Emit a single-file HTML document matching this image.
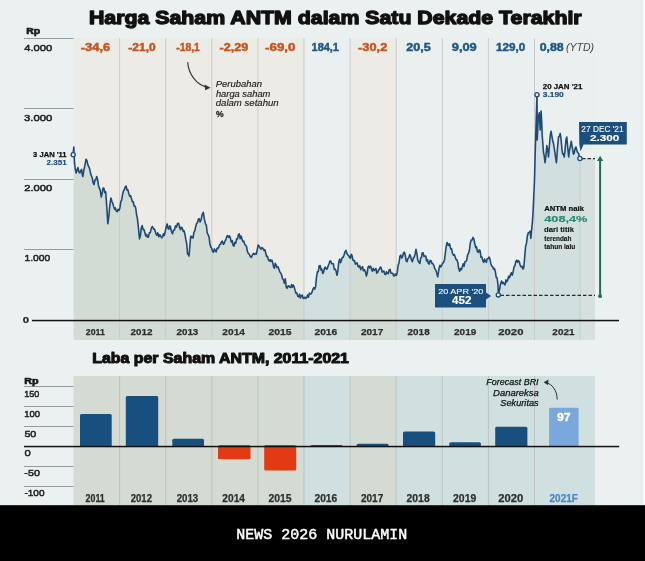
<!DOCTYPE html><html><head><meta charset="utf-8"><style>html,body{margin:0;padding:0;width:645px;height:561px;overflow:hidden;background:#ebf1f0}svg{display:block;will-change:transform}text{font-family:"Liberation Sans",sans-serif}</style></head><body>
<svg width="645" height="561" viewBox="0 0 645 561">
<rect x="0" y="0" width="645" height="561" fill="#ebf1f0"/>
<rect x="640.7" y="0" width="2.2" height="505" fill="#e5eaeb"/><rect x="642.9" y="0" width="2.1" height="505" fill="#f6fafb"/>
<text x="88.96" y="23.61" font-size="18.49" font-weight="bold" font-style="normal" fill="#111" stroke="#111" stroke-width="1.3" stroke-linejoin="round" textLength="492.68" lengthAdjust="spacingAndGlyphs">Harga Saham ANTM dalam Satu Dekade Terakhir</text>
<rect x="73.5" y="38.3" width="46.1" height="301.7" fill="#ecebe6"/>
<rect x="119.6" y="38.3" width="46.1" height="301.7" fill="#ecebe6"/>
<rect x="165.7" y="38.3" width="46.1" height="301.7" fill="#ecebe6"/>
<rect x="211.8" y="38.3" width="46.1" height="301.7" fill="#ecebe6"/>
<rect x="257.9" y="38.3" width="46.1" height="301.7" fill="#ecebe6"/>
<rect x="304.0" y="38.3" width="46.1" height="301.7" fill="#eaf0f0"/>
<rect x="350.1" y="38.3" width="46.1" height="301.7" fill="#ecebe6"/>
<rect x="396.2" y="38.3" width="46.1" height="301.7" fill="#eaf0f0"/>
<rect x="442.3" y="38.3" width="46.1" height="301.7" fill="#eaf0f0"/>
<rect x="488.4" y="38.3" width="46.1" height="301.7" fill="#eaf0f0"/>
<rect x="534.5" y="38.3" width="60.5" height="301.7" fill="#eaf0f0"/>
<clipPath id="ar"><path d="M73.3,152.0 L73.8,147.0 L74.5,163.2 L75.3,169.0 L76.2,173.0 L77.1,169.7 L78.0,167.6 L78.9,171.8 L79.8,173.0 L80.7,170.8 L81.6,169.4 L82.2,174.3 L82.8,176.5 L83.9,169.8 L84.9,165.4 L86.0,159.3 L86.9,160.5 L87.8,164.6 L88.7,166.7 L89.6,168.6 L90.5,173.1 L91.4,175.7 L92.3,178.2 L93.1,182.7 L94.0,184.6 L94.9,180.0 L95.8,179.7 L96.7,176.5 L97.6,179.6 L98.5,185.7 L99.4,188.1 L100.3,190.4 L101.2,197.0 L102.1,193.9 L103.0,188.0 L103.9,188.2 L104.8,192.6 L105.7,191.7 L106.8,207.4 L107.8,223.8 L108.7,217.7 L109.6,207.7 L110.3,202.0 L111.0,198.0 L111.9,201.5 L112.8,203.3 L113.7,206.8 L114.6,209.2 L115.4,207.9 L116.3,211.3 L117.2,211.6 L118.1,209.3 L119.0,210.4 L119.9,208.0 L120.8,201.6 L121.7,200.0 L122.6,194.3 L123.5,190.8 L124.4,189.6 L125.2,186.9 L126.1,186.0 L127.0,190.1 L127.9,189.9 L128.8,193.5 L129.7,196.2 L130.6,195.6 L131.5,198.8 L132.4,201.8 L133.2,201.5 L134.1,206.0 L135.0,206.0 L135.8,208.5 L136.6,215.0 L137.4,218.4 L138.4,227.3 L139.5,238.9 L140.4,235.8 L141.3,228.1 L142.2,225.6 L143.1,229.7 L144.0,229.5 L144.9,232.7 L145.8,236.0 L146.7,234.4 L147.5,237.1 L148.4,237.1 L149.4,232.7 L150.4,232.4 L151.4,227.9 L152.4,226.5 L153.5,228.9 L154.5,229.1 L155.6,232.7 L156.7,235.2 L157.7,232.8 L158.8,236.8 L159.8,234.7 L160.9,236.3 L161.8,237.9 L162.7,236.3 L163.5,233.7 L164.2,235.4 L165.0,232.8 L166.1,227.2 L167.1,223.9 L168.0,228.4 L168.9,229.2 L169.6,225.8 L170.3,226.5 L171.4,231.3 L172.5,233.7 L173.5,230.1 L174.5,230.0 L175.5,225.9 L176.5,227.1 L177.5,223.5 L178.6,223.3 L179.6,227.4 L180.5,229.6 L181.4,227.2 L182.3,228.3 L183.2,231.4 L184.1,230.9 L185.0,234.6 L185.8,239.4 L186.7,243.5 L187.6,254.2 L188.3,253.9 L189.0,256.0 L189.8,246.8 L190.7,236.3 L191.5,236.3 L192.2,237.8 L193.0,238.0 L193.9,232.4 L194.8,230.9 L195.7,226.5 L196.6,223.4 L197.4,222.8 L198.3,219.4 L199.2,218.7 L200.1,222.0 L201.2,219.2 L202.2,214.4 L203.3,212.3 L204.4,219.4 L205.5,223.9 L206.4,225.5 L207.2,232.9 L208.1,234.6 L209.0,236.8 L209.9,243.7 L210.8,247.0 L211.7,248.2 L212.6,251.5 L213.5,252.2 L214.4,248.9 L215.3,250.6 L216.2,251.8 L217.1,248.2 L217.9,248.5 L218.8,247.0 L219.7,244.5 L220.6,244.2 L221.5,241.7 L222.4,241.1 L223.3,244.3 L224.2,243.5 L225.1,240.7 L225.9,239.8 L226.8,236.4 L227.7,235.5 L228.6,237.4 L229.5,235.9 L230.4,238.1 L231.3,242.2 L232.2,240.5 L233.1,245.4 L234.0,246.1 L234.9,242.3 L235.8,243.1 L236.6,238.8 L237.5,238.9 L238.4,234.6 L239.3,233.9 L240.2,238.8 L241.1,236.1 L242.0,239.0 L242.9,241.6 L243.8,241.1 L244.7,244.2 L245.6,245.3 L246.5,246.5 L247.3,251.1 L248.2,253.3 L249.3,254.2 L250.3,256.7 L251.4,257.4 L252.5,254.7 L253.6,253.3 L254.5,254.5 L255.4,253.5 L256.3,254.2 L257.2,249.9 L258.2,245.0 L259.2,246.2 L260.3,248.5 L261.2,249.0 L262.1,247.5 L263.0,248.5 L263.9,250.3 L264.8,249.5 L265.7,253.0 L266.6,256.5 L267.5,256.4 L268.4,259.8 L269.3,261.0 L270.2,259.7 L271.0,261.4 L271.9,260.1 L272.8,263.1 L273.7,267.2 L274.5,268.2 L275.2,263.3 L276.0,264.6 L277.0,267.6 L278.1,266.9 L279.1,269.9 L280.0,272.2 L280.8,273.0 L281.7,275.3 L282.6,278.9 L283.5,279.8 L284.4,283.3 L285.3,278.8 L286.2,286.8 L287.1,288.3 L288.0,286.0 L288.9,285.9 L289.8,287.3 L290.7,287.4 L291.6,284.5 L292.4,287.1 L293.3,285.0 L294.2,287.1 L295.1,290.4 L296.0,293.3 L296.9,293.1 L297.8,296.4 L298.7,296.6 L299.6,294.2 L300.4,298.0 L301.3,295.8 L302.2,295.0 L303.1,298.3 L304.0,298.4 L304.9,297.1 L305.8,298.4 L306.7,297.5 L307.6,294.9 L308.5,297.1 L309.4,293.1 L310.3,294.0 L311.1,294.0 L312.0,292.2 L312.9,289.2 L313.8,287.7 L314.7,289.1 L315.6,286.8 L316.5,277.1 L317.4,271.7 L318.3,271.6 L319.2,265.7 L320.1,265.5 L321.0,270.0 L321.8,269.1 L322.7,273.5 L323.6,272.1 L324.5,268.0 L325.4,267.2 L326.3,269.1 L327.2,269.0 L328.1,266.0 L329.0,264.0 L329.9,261.0 L330.8,261.1 L331.6,263.6 L332.5,263.7 L333.4,263.9 L334.3,269.4 L335.2,269.0 L336.1,271.0 L337.0,275.3 L337.9,270.7 L338.8,261.9 L339.7,259.1 L340.6,262.8 L341.5,260.1 L342.4,257.3 L343.2,257.3 L344.1,254.8 L345.0,251.8 L345.9,250.3 L346.8,253.2 L347.7,254.8 L348.6,255.4 L349.5,257.4 L350.4,258.3 L351.2,254.3 L352.1,255.7 L352.9,260.1 L353.6,260.8 L354.5,260.5 L355.3,264.1 L356.2,263.5 L357.1,262.8 L358.0,266.3 L358.9,267.0 L359.8,265.7 L360.7,269.6 L361.6,267.9 L362.5,266.7 L363.4,270.8 L364.3,269.7 L365.4,271.6 L366.4,276.0 L367.2,273.3 L367.9,267.6 L368.7,266.1 L369.6,267.9 L370.5,266.1 L371.4,268.8 L372.3,271.2 L373.2,268.2 L374.1,270.5 L375.0,269.7 L375.9,268.5 L376.7,273.2 L377.6,272.4 L378.5,270.0 L379.4,269.3 L380.3,267.0 L381.2,267.9 L382.1,272.0 L383.0,271.5 L383.9,271.0 L384.8,274.2 L385.7,274.5 L386.5,271.7 L387.4,273.3 L388.3,273.7 L389.2,269.7 L390.1,269.4 L391.0,273.1 L391.9,273.3 L392.8,273.3 L393.7,276.0 L394.6,275.6 L395.4,273.9 L396.3,275.4 L397.2,272.4 L398.1,265.5 L399.0,263.0 L399.9,256.3 L400.8,255.1 L401.7,258.1 L402.6,256.6 L403.5,252.8 L404.4,252.2 L405.3,255.5 L406.1,260.5 L407.0,261.7 L407.9,258.6 L408.8,257.7 L409.7,254.6 L410.6,256.1 L411.5,260.1 L412.4,261.7 L413.3,258.0 L414.2,257.2 L415.1,254.0 L416.0,249.2 L416.9,253.5 L417.7,259.9 L418.8,262.2 L419.9,263.5 L420.7,257.9 L421.4,257.3 L422.2,252.8 L423.1,252.8 L424.0,256.5 L424.9,256.3 L425.8,256.1 L426.6,261.0 L427.5,259.7 L428.4,263.5 L429.3,263.9 L430.2,260.4 L431.1,260.8 L432.0,263.6 L432.9,263.5 L433.8,265.3 L434.7,268.6 L435.6,269.7 L436.6,272.6 L437.7,276.8 L438.4,272.7 L439.1,267.9 L440.0,265.2 L440.9,266.8 L441.8,265.3 L442.7,262.8 L443.6,262.6 L444.5,259.7 L445.3,253.5 L446.2,246.6 L447.1,242.5 L447.9,244.9 L448.6,245.5 L449.2,243.8 L449.8,244.6 L450.7,248.9 L451.6,248.7 L452.5,253.5 L453.4,255.2 L454.3,254.5 L455.2,257.0 L456.1,259.6 L456.9,259.8 L457.8,262.4 L458.7,268.6 L459.6,271.3 L460.5,268.5 L461.4,269.7 L462.3,266.8 L463.2,263.7 L464.1,266.2 L464.9,261.7 L465.8,261.5 L466.7,260.3 L467.6,254.9 L468.5,253.5 L469.4,250.3 L470.3,243.0 L471.2,240.1 L472.1,239.9 L473.0,237.4 L473.9,239.2 L474.8,243.7 L475.7,247.6 L476.5,246.9 L477.4,251.7 L478.3,252.4 L479.2,249.9 L480.1,250.6 L481.0,257.3 L481.9,257.1 L482.8,260.6 L483.7,262.3 L484.6,259.1 L485.5,261.5 L486.4,262.3 L487.2,258.7 L488.1,258.7 L489.0,257.0 L489.9,258.9 L490.8,263.4 L491.7,266.0 L492.6,266.6 L493.5,269.1 L494.4,268.4 L495.3,271.3 L496.2,277.3 L497.0,277.6 L497.9,283.8 L498.4,294.5 L499.4,290.6 L500.5,283.9 L501.5,281.1 L502.4,283.6 L503.3,282.3 L504.2,283.8 L505.1,284.9 L505.9,279.9 L506.8,281.8 L507.7,280.2 L508.6,276.3 L509.5,277.7 L510.4,274.9 L511.3,272.8 L512.2,275.3 L513.1,272.2 L514.0,266.8 L514.9,265.7 L515.8,261.5 L516.7,260.1 L517.5,262.2 L518.4,260.6 L519.3,261.7 L520.2,265.4 L521.1,266.8 L522.0,266.2 L522.9,269.1 L523.8,267.7 L524.7,256.7 L525.6,246.3 L526.5,243.2 L527.3,236.3 L528.2,233.0 L529.1,232.4 L530.0,231.2 L530.9,238.3 L531.6,229.8 L532.3,223.2 L533.0,213.1 L533.6,200.0 L534.5,180.0 L535.3,150.0 L536.2,120.0 L537.0,94.6 L537.2,140.0 L538.2,118.0 L539.3,112.8 L540.2,130.0 L541.1,111.1 L541.7,121.8 L542.2,135.0 L542.9,144.3 L543.5,152.7 L544.2,155.5 L545.0,162.6 L545.9,155.9 L546.8,145.6 L547.6,149.2 L548.5,157.0 L549.2,148.0 L550.0,138.0 L550.5,133.8 L551.1,131.3 L552.0,136.7 L552.8,141.3 L553.6,143.8 L554.5,149.8 L555.5,157.0 L556.4,162.6 L557.0,154.8 L557.5,148.0 L558.5,137.0 L559.4,136.3 L560.2,133.4 L561.1,139.6 L562.0,149.8 L562.7,154.1 L563.5,153.8 L564.2,157.0 L564.9,151.6 L565.5,145.0 L566.1,139.0 L566.8,137.0 L567.8,148.4 L568.7,157.0 L569.4,150.9 L570.0,148.0 L570.6,145.1 L571.3,141.3 L572.3,147.3 L573.4,154.1 L574.2,153.3 L575.1,148.3 L575.9,147.0 L576.8,150.3 L577.7,152.7 L578.7,153.5 L579.6,158.4 L595,158.7 L595,340 L73.5,340 Z"/></clipPath>
<g clip-path="url(#ar)">
<rect x="73.5" y="38.3" width="46.1" height="301.7" fill="#d3dcd4"/>
<rect x="119.6" y="38.3" width="46.1" height="301.7" fill="#d3dcd4"/>
<rect x="165.7" y="38.3" width="46.1" height="301.7" fill="#d3dcd4"/>
<rect x="211.8" y="38.3" width="46.1" height="301.7" fill="#d3dcd4"/>
<rect x="257.9" y="38.3" width="46.1" height="301.7" fill="#d3dcd4"/>
<rect x="304.0" y="38.3" width="46.1" height="301.7" fill="#d1e0de"/>
<rect x="350.1" y="38.3" width="46.1" height="301.7" fill="#d3dcd4"/>
<rect x="396.2" y="38.3" width="46.1" height="301.7" fill="#d1e0de"/>
<rect x="442.3" y="38.3" width="46.1" height="301.7" fill="#d1e0de"/>
<rect x="488.4" y="38.3" width="46.1" height="301.7" fill="#d1e0de"/>
<rect x="534.5" y="38.3" width="60.5" height="301.7" fill="#d1e0de"/>
</g>
<rect x="119.1" y="38.3" width="1" height="301.7" fill="#c8ccca"/>
<rect x="165.2" y="38.3" width="1" height="301.7" fill="#c8ccca"/>
<rect x="211.3" y="38.3" width="1" height="301.7" fill="#c8ccca"/>
<rect x="257.4" y="38.3" width="1" height="301.7" fill="#c8ccca"/>
<rect x="303.5" y="38.3" width="1" height="301.7" fill="#c8ccca"/>
<rect x="349.6" y="38.3" width="1" height="301.7" fill="#c8ccca"/>
<rect x="395.7" y="38.3" width="1" height="301.7" fill="#c8ccca"/>
<rect x="441.8" y="38.3" width="1" height="301.7" fill="#c8ccca"/>
<rect x="487.9" y="38.3" width="1" height="301.7" fill="#c8ccca"/>
<rect x="534.0" y="38.3" width="1" height="301.7" fill="#c8ccca"/>
<rect x="580.6" y="158.7" width="14.4" height="181.3" fill="#d5e0df"/><rect x="579.6" y="158.7" width="1" height="181.3" fill="#c3cfcd"/>
<rect x="24" y="38" width="49.5" height="1" fill="#939c9b"/>
<rect x="24" y="108" width="49.5" height="1" fill="#939c9b"/>
<rect x="24" y="179" width="49.5" height="1" fill="#939c9b"/>
<rect x="24" y="249" width="49.5" height="1" fill="#939c9b"/>
<rect x="32" y="319.8" width="587" height="1.5" fill="#111"/>
<text x="26.22" y="34.11" font-size="8.42" font-weight="bold" font-style="normal" fill="#1a1a1a" stroke="#1a1a1a" stroke-width="0.6" stroke-linejoin="round" textLength="13.93" lengthAdjust="spacingAndGlyphs">Rp</text>
<text x="24.23" y="50.72" font-size="9.67" font-weight="normal" font-style="normal" fill="#1e1e1e" stroke="#1e1e1e" stroke-width="0.5" stroke-linejoin="round" textLength="27.94" lengthAdjust="spacingAndGlyphs">4.000</text>
<text x="24.00" y="120.92" font-size="9.67" font-weight="normal" font-style="normal" fill="#1e1e1e" stroke="#1e1e1e" stroke-width="0.5" stroke-linejoin="round" textLength="28.17" lengthAdjust="spacingAndGlyphs">3.000</text>
<text x="24.19" y="190.73" font-size="8.95" font-weight="normal" font-style="normal" fill="#1e1e1e" stroke="#1e1e1e" stroke-width="0.5" stroke-linejoin="round" textLength="27.98" lengthAdjust="spacingAndGlyphs">2.000</text>
<text x="24.48" y="260.93" font-size="9.67" font-weight="normal" font-style="normal" fill="#1e1e1e" stroke="#1e1e1e" stroke-width="0.5" stroke-linejoin="round" textLength="25.65" lengthAdjust="spacingAndGlyphs">1.000</text>
<text x="22.85" y="322.97" font-size="9.96" font-weight="bold" font-style="normal" fill="#222" stroke="#222" stroke-width="0.2" stroke-linejoin="round" textLength="6.32" lengthAdjust="spacingAndGlyphs">0</text>
<text x="80.81" y="50.63" font-size="10.45" font-weight="bold" font-style="normal" fill="#c8541f" stroke="#c8541f" stroke-width="0.45" stroke-linejoin="round" textLength="29.41" lengthAdjust="spacingAndGlyphs">-34,6</text>
<text x="128.35" y="50.63" font-size="10.45" font-weight="bold" font-style="normal" fill="#c8541f" stroke="#c8541f" stroke-width="0.45" stroke-linejoin="round" textLength="27.30" lengthAdjust="spacingAndGlyphs">-21,0</text>
<text x="176.31" y="50.63" font-size="10.45" font-weight="bold" font-style="normal" fill="#c8541f" stroke="#c8541f" stroke-width="0.45" stroke-linejoin="round" textLength="23.51" lengthAdjust="spacingAndGlyphs">-18,1</text>
<text x="219.62" y="50.63" font-size="10.45" font-weight="bold" font-style="normal" fill="#c8541f" stroke="#c8541f" stroke-width="0.45" stroke-linejoin="round" textLength="28.79" lengthAdjust="spacingAndGlyphs">-2,29</text>
<text x="265.09" y="50.63" font-size="10.45" font-weight="bold" font-style="normal" fill="#c8541f" stroke="#c8541f" stroke-width="0.45" stroke-linejoin="round" textLength="30.41" lengthAdjust="spacingAndGlyphs">-69,0</text>
<text x="311.57" y="50.63" font-size="10.45" font-weight="bold" font-style="normal" fill="#1f5685" stroke="#1f5685" stroke-width="0.45" stroke-linejoin="round" textLength="27.30" lengthAdjust="spacingAndGlyphs">184,1</text>
<text x="358.11" y="50.63" font-size="10.45" font-weight="bold" font-style="normal" fill="#c8541f" stroke="#c8541f" stroke-width="0.45" stroke-linejoin="round" textLength="29.17" lengthAdjust="spacingAndGlyphs">-30,2</text>
<text x="406.39" y="50.63" font-size="10.45" font-weight="bold" font-style="normal" fill="#1f5685" stroke="#1f5685" stroke-width="0.45" stroke-linejoin="round" textLength="24.42" lengthAdjust="spacingAndGlyphs">20,5</text>
<text x="451.78" y="50.63" font-size="10.45" font-weight="bold" font-style="normal" fill="#1f5685" stroke="#1f5685" stroke-width="0.45" stroke-linejoin="round" textLength="24.96" lengthAdjust="spacingAndGlyphs">9,09</text>
<text x="496.13" y="50.63" font-size="10.45" font-weight="bold" font-style="normal" fill="#1f5685" stroke="#1f5685" stroke-width="0.45" stroke-linejoin="round" textLength="29.14" lengthAdjust="spacingAndGlyphs">129,0</text>
<text x="539.73" y="50.63" font-size="10.45" font-weight="bold" font-style="normal" fill="#1f5685" stroke="#1f5685" stroke-width="0.45" stroke-linejoin="round" textLength="23.93" lengthAdjust="spacingAndGlyphs">0,88</text>
<text x="566.03" y="50.70" font-size="10.29" font-weight="normal" font-style="italic" fill="#444" textLength="28.06" lengthAdjust="spacingAndGlyphs">(YTD)</text>
<path d="M187.7,62.1 C188.5,74 196,84 206,87" fill="none" stroke="#333" stroke-width="1.1"/>
<path d="M210.6,87.8 L204.5,84.4 L205.2,90.2 Z" fill="#333"/>
<text x="215.79" y="86.58" font-size="9.28" font-weight="normal" font-style="italic" fill="#1a1a1a" stroke="#1a1a1a" stroke-width="0.15" stroke-linejoin="round" textLength="46.09" lengthAdjust="spacingAndGlyphs">Perubahan</text>
<text x="215.94" y="96.78" font-size="9.28" font-weight="normal" font-style="italic" fill="#1a1a1a" stroke="#1a1a1a" stroke-width="0.15" stroke-linejoin="round" textLength="54.43" lengthAdjust="spacingAndGlyphs">harga saham</text>
<text x="215.74" y="106.18" font-size="9.28" font-weight="normal" font-style="italic" fill="#1a1a1a" stroke="#1a1a1a" stroke-width="0.15" stroke-linejoin="round" textLength="62.92" lengthAdjust="spacingAndGlyphs">dalam setahun</text>
<text x="215.94" y="117.25" font-size="9.72" font-weight="bold" font-style="normal" fill="#222" stroke="#222" stroke-width="0.3" stroke-linejoin="round" textLength="7.62" lengthAdjust="spacingAndGlyphs">%</text>
<path d="M73.3,152.0 L73.8,147.0 L74.5,163.2 L75.3,169.0 L76.2,173.0 L77.1,169.7 L78.0,167.6 L78.9,171.8 L79.8,173.0 L80.7,170.8 L81.6,169.4 L82.2,174.3 L82.8,176.5 L83.9,169.8 L84.9,165.4 L86.0,159.3 L86.9,160.5 L87.8,164.6 L88.7,166.7 L89.6,168.6 L90.5,173.1 L91.4,175.7 L92.3,178.2 L93.1,182.7 L94.0,184.6 L94.9,180.0 L95.8,179.7 L96.7,176.5 L97.6,179.6 L98.5,185.7 L99.4,188.1 L100.3,190.4 L101.2,197.0 L102.1,193.9 L103.0,188.0 L103.9,188.2 L104.8,192.6 L105.7,191.7 L106.8,207.4 L107.8,223.8 L108.7,217.7 L109.6,207.7 L110.3,202.0 L111.0,198.0 L111.9,201.5 L112.8,203.3 L113.7,206.8 L114.6,209.2 L115.4,207.9 L116.3,211.3 L117.2,211.6 L118.1,209.3 L119.0,210.4 L119.9,208.0 L120.8,201.6 L121.7,200.0 L122.6,194.3 L123.5,190.8 L124.4,189.6 L125.2,186.9 L126.1,186.0 L127.0,190.1 L127.9,189.9 L128.8,193.5 L129.7,196.2 L130.6,195.6 L131.5,198.8 L132.4,201.8 L133.2,201.5 L134.1,206.0 L135.0,206.0 L135.8,208.5 L136.6,215.0 L137.4,218.4 L138.4,227.3 L139.5,238.9 L140.4,235.8 L141.3,228.1 L142.2,225.6 L143.1,229.7 L144.0,229.5 L144.9,232.7 L145.8,236.0 L146.7,234.4 L147.5,237.1 L148.4,237.1 L149.4,232.7 L150.4,232.4 L151.4,227.9 L152.4,226.5 L153.5,228.9 L154.5,229.1 L155.6,232.7 L156.7,235.2 L157.7,232.8 L158.8,236.8 L159.8,234.7 L160.9,236.3 L161.8,237.9 L162.7,236.3 L163.5,233.7 L164.2,235.4 L165.0,232.8 L166.1,227.2 L167.1,223.9 L168.0,228.4 L168.9,229.2 L169.6,225.8 L170.3,226.5 L171.4,231.3 L172.5,233.7 L173.5,230.1 L174.5,230.0 L175.5,225.9 L176.5,227.1 L177.5,223.5 L178.6,223.3 L179.6,227.4 L180.5,229.6 L181.4,227.2 L182.3,228.3 L183.2,231.4 L184.1,230.9 L185.0,234.6 L185.8,239.4 L186.7,243.5 L187.6,254.2 L188.3,253.9 L189.0,256.0 L189.8,246.8 L190.7,236.3 L191.5,236.3 L192.2,237.8 L193.0,238.0 L193.9,232.4 L194.8,230.9 L195.7,226.5 L196.6,223.4 L197.4,222.8 L198.3,219.4 L199.2,218.7 L200.1,222.0 L201.2,219.2 L202.2,214.4 L203.3,212.3 L204.4,219.4 L205.5,223.9 L206.4,225.5 L207.2,232.9 L208.1,234.6 L209.0,236.8 L209.9,243.7 L210.8,247.0 L211.7,248.2 L212.6,251.5 L213.5,252.2 L214.4,248.9 L215.3,250.6 L216.2,251.8 L217.1,248.2 L217.9,248.5 L218.8,247.0 L219.7,244.5 L220.6,244.2 L221.5,241.7 L222.4,241.1 L223.3,244.3 L224.2,243.5 L225.1,240.7 L225.9,239.8 L226.8,236.4 L227.7,235.5 L228.6,237.4 L229.5,235.9 L230.4,238.1 L231.3,242.2 L232.2,240.5 L233.1,245.4 L234.0,246.1 L234.9,242.3 L235.8,243.1 L236.6,238.8 L237.5,238.9 L238.4,234.6 L239.3,233.9 L240.2,238.8 L241.1,236.1 L242.0,239.0 L242.9,241.6 L243.8,241.1 L244.7,244.2 L245.6,245.3 L246.5,246.5 L247.3,251.1 L248.2,253.3 L249.3,254.2 L250.3,256.7 L251.4,257.4 L252.5,254.7 L253.6,253.3 L254.5,254.5 L255.4,253.5 L256.3,254.2 L257.2,249.9 L258.2,245.0 L259.2,246.2 L260.3,248.5 L261.2,249.0 L262.1,247.5 L263.0,248.5 L263.9,250.3 L264.8,249.5 L265.7,253.0 L266.6,256.5 L267.5,256.4 L268.4,259.8 L269.3,261.0 L270.2,259.7 L271.0,261.4 L271.9,260.1 L272.8,263.1 L273.7,267.2 L274.5,268.2 L275.2,263.3 L276.0,264.6 L277.0,267.6 L278.1,266.9 L279.1,269.9 L280.0,272.2 L280.8,273.0 L281.7,275.3 L282.6,278.9 L283.5,279.8 L284.4,283.3 L285.3,278.8 L286.2,286.8 L287.1,288.3 L288.0,286.0 L288.9,285.9 L289.8,287.3 L290.7,287.4 L291.6,284.5 L292.4,287.1 L293.3,285.0 L294.2,287.1 L295.1,290.4 L296.0,293.3 L296.9,293.1 L297.8,296.4 L298.7,296.6 L299.6,294.2 L300.4,298.0 L301.3,295.8 L302.2,295.0 L303.1,298.3 L304.0,298.4 L304.9,297.1 L305.8,298.4 L306.7,297.5 L307.6,294.9 L308.5,297.1 L309.4,293.1 L310.3,294.0 L311.1,294.0 L312.0,292.2 L312.9,289.2 L313.8,287.7 L314.7,289.1 L315.6,286.8 L316.5,277.1 L317.4,271.7 L318.3,271.6 L319.2,265.7 L320.1,265.5 L321.0,270.0 L321.8,269.1 L322.7,273.5 L323.6,272.1 L324.5,268.0 L325.4,267.2 L326.3,269.1 L327.2,269.0 L328.1,266.0 L329.0,264.0 L329.9,261.0 L330.8,261.1 L331.6,263.6 L332.5,263.7 L333.4,263.9 L334.3,269.4 L335.2,269.0 L336.1,271.0 L337.0,275.3 L337.9,270.7 L338.8,261.9 L339.7,259.1 L340.6,262.8 L341.5,260.1 L342.4,257.3 L343.2,257.3 L344.1,254.8 L345.0,251.8 L345.9,250.3 L346.8,253.2 L347.7,254.8 L348.6,255.4 L349.5,257.4 L350.4,258.3 L351.2,254.3 L352.1,255.7 L352.9,260.1 L353.6,260.8 L354.5,260.5 L355.3,264.1 L356.2,263.5 L357.1,262.8 L358.0,266.3 L358.9,267.0 L359.8,265.7 L360.7,269.6 L361.6,267.9 L362.5,266.7 L363.4,270.8 L364.3,269.7 L365.4,271.6 L366.4,276.0 L367.2,273.3 L367.9,267.6 L368.7,266.1 L369.6,267.9 L370.5,266.1 L371.4,268.8 L372.3,271.2 L373.2,268.2 L374.1,270.5 L375.0,269.7 L375.9,268.5 L376.7,273.2 L377.6,272.4 L378.5,270.0 L379.4,269.3 L380.3,267.0 L381.2,267.9 L382.1,272.0 L383.0,271.5 L383.9,271.0 L384.8,274.2 L385.7,274.5 L386.5,271.7 L387.4,273.3 L388.3,273.7 L389.2,269.7 L390.1,269.4 L391.0,273.1 L391.9,273.3 L392.8,273.3 L393.7,276.0 L394.6,275.6 L395.4,273.9 L396.3,275.4 L397.2,272.4 L398.1,265.5 L399.0,263.0 L399.9,256.3 L400.8,255.1 L401.7,258.1 L402.6,256.6 L403.5,252.8 L404.4,252.2 L405.3,255.5 L406.1,260.5 L407.0,261.7 L407.9,258.6 L408.8,257.7 L409.7,254.6 L410.6,256.1 L411.5,260.1 L412.4,261.7 L413.3,258.0 L414.2,257.2 L415.1,254.0 L416.0,249.2 L416.9,253.5 L417.7,259.9 L418.8,262.2 L419.9,263.5 L420.7,257.9 L421.4,257.3 L422.2,252.8 L423.1,252.8 L424.0,256.5 L424.9,256.3 L425.8,256.1 L426.6,261.0 L427.5,259.7 L428.4,263.5 L429.3,263.9 L430.2,260.4 L431.1,260.8 L432.0,263.6 L432.9,263.5 L433.8,265.3 L434.7,268.6 L435.6,269.7 L436.6,272.6 L437.7,276.8 L438.4,272.7 L439.1,267.9 L440.0,265.2 L440.9,266.8 L441.8,265.3 L442.7,262.8 L443.6,262.6 L444.5,259.7 L445.3,253.5 L446.2,246.6 L447.1,242.5 L447.9,244.9 L448.6,245.5 L449.2,243.8 L449.8,244.6 L450.7,248.9 L451.6,248.7 L452.5,253.5 L453.4,255.2 L454.3,254.5 L455.2,257.0 L456.1,259.6 L456.9,259.8 L457.8,262.4 L458.7,268.6 L459.6,271.3 L460.5,268.5 L461.4,269.7 L462.3,266.8 L463.2,263.7 L464.1,266.2 L464.9,261.7 L465.8,261.5 L466.7,260.3 L467.6,254.9 L468.5,253.5 L469.4,250.3 L470.3,243.0 L471.2,240.1 L472.1,239.9 L473.0,237.4 L473.9,239.2 L474.8,243.7 L475.7,247.6 L476.5,246.9 L477.4,251.7 L478.3,252.4 L479.2,249.9 L480.1,250.6 L481.0,257.3 L481.9,257.1 L482.8,260.6 L483.7,262.3 L484.6,259.1 L485.5,261.5 L486.4,262.3 L487.2,258.7 L488.1,258.7 L489.0,257.0 L489.9,258.9 L490.8,263.4 L491.7,266.0 L492.6,266.6 L493.5,269.1 L494.4,268.4 L495.3,271.3 L496.2,277.3 L497.0,277.6 L497.9,283.8 L498.4,294.5 L499.4,290.6 L500.5,283.9 L501.5,281.1 L502.4,283.6 L503.3,282.3 L504.2,283.8 L505.1,284.9 L505.9,279.9 L506.8,281.8 L507.7,280.2 L508.6,276.3 L509.5,277.7 L510.4,274.9 L511.3,272.8 L512.2,275.3 L513.1,272.2 L514.0,266.8 L514.9,265.7 L515.8,261.5 L516.7,260.1 L517.5,262.2 L518.4,260.6 L519.3,261.7 L520.2,265.4 L521.1,266.8 L522.0,266.2 L522.9,269.1 L523.8,267.7 L524.7,256.7 L525.6,246.3 L526.5,243.2 L527.3,236.3 L528.2,233.0 L529.1,232.4 L530.0,231.2 L530.9,238.3 L531.6,229.8 L532.3,223.2 L533.0,213.1 L533.6,200.0 L534.5,180.0 L535.3,150.0 L536.2,120.0 L537.0,94.6 L537.2,140.0 L538.2,118.0 L539.3,112.8 L540.2,130.0 L541.1,111.1 L541.7,121.8 L542.2,135.0 L542.9,144.3 L543.5,152.7 L544.2,155.5 L545.0,162.6 L545.9,155.9 L546.8,145.6 L547.6,149.2 L548.5,157.0 L549.2,148.0 L550.0,138.0 L550.5,133.8 L551.1,131.3 L552.0,136.7 L552.8,141.3 L553.6,143.8 L554.5,149.8 L555.5,157.0 L556.4,162.6 L557.0,154.8 L557.5,148.0 L558.5,137.0 L559.4,136.3 L560.2,133.4 L561.1,139.6 L562.0,149.8 L562.7,154.1 L563.5,153.8 L564.2,157.0 L564.9,151.6 L565.5,145.0 L566.1,139.0 L566.8,137.0 L567.8,148.4 L568.7,157.0 L569.4,150.9 L570.0,148.0 L570.6,145.1 L571.3,141.3 L572.3,147.3 L573.4,154.1 L574.2,153.3 L575.1,148.3 L575.9,147.0 L576.8,150.3 L577.7,152.7 L578.7,153.5 L579.6,158.4" fill="none" stroke="#1e4b76" stroke-width="1.6" stroke-linejoin="round"/>
<path d="M500.5,295.3 L595,295.3" stroke="#2a2a2a" stroke-width="1.2" stroke-dasharray="3.5,2"/>
<path d="M582,158.6 L595,158.6" stroke="#2a2a2a" stroke-width="1.2" stroke-dasharray="3.5,2"/>
<rect x="599.1" y="159" width="2" height="137" fill="#1c6e5b"/>
<path d="M600.1,155.8 L597,161 L603.2,161 Z" fill="#1c6e5b"/>
<circle cx="600.1" cy="296.2" r="1.9" fill="#1c6e5b"/>
<circle cx="73.2" cy="154.8" r="2.1" fill="#e8eeee" stroke="#1e4b76" stroke-width="1.3"/>
<circle cx="537" cy="94.7" r="2.1" fill="#e8eeee" stroke="#1e4b76" stroke-width="1.3"/>
<circle cx="579.9" cy="158.5" r="2.1" fill="#e8eeee" stroke="#1e4b76" stroke-width="1.3"/>
<circle cx="498.3" cy="294.9" r="2.1" fill="#e8eeee" stroke="#1e4b76" stroke-width="1.3"/>
<text x="33.14" y="156.66" font-size="7.01" font-weight="bold" font-style="normal" fill="#111" stroke="#111" stroke-width="0.25" stroke-linejoin="round" textLength="33.45" lengthAdjust="spacingAndGlyphs">3 JAN '11</text>
<text x="46.49" y="164.78" font-size="7.11" font-weight="bold" font-style="normal" fill="#1c4a78" stroke="#1c4a78" stroke-width="0.15" stroke-linejoin="round" textLength="20.15" lengthAdjust="spacingAndGlyphs">2.351</text>
<text x="542.75" y="88.76" font-size="7.59" font-weight="bold" font-style="normal" fill="#111" stroke="#111" stroke-width="0.25" stroke-linejoin="round" textLength="39.61" lengthAdjust="spacingAndGlyphs">20 JAN '21</text>
<text x="542.77" y="96.78" font-size="7.54" font-weight="bold" font-style="normal" fill="#1c4a78" stroke="#1c4a78" stroke-width="0.15" stroke-linejoin="round" textLength="21.02" lengthAdjust="spacingAndGlyphs">3.190</text>
<path d="M579,122 L626.8,122 L626.8,144.5 L583.6,144.5 L580.5,151.6 L579.3,144.5 Z" fill="#1d4f7e"/>
<text x="581.33" y="132.09" font-size="8.60" font-weight="normal" font-style="normal" fill="#fff" stroke="#fff" stroke-width="0.1" stroke-linejoin="round" textLength="42.31" lengthAdjust="spacingAndGlyphs">27 DEC '21</text>
<text x="590.06" y="140.58" font-size="9.71" font-weight="bold" font-style="normal" fill="#fff" stroke="#fff" stroke-width="0.15" stroke-linejoin="round" textLength="29.36" lengthAdjust="spacingAndGlyphs">2.300</text>
<path d="M435,284.1 L486,284.1 L486,292.4 L491.2,295.9 L486,299.4 L486,307.5 L435,307.5 Z" fill="#1d4f7e"/>
<text x="438.30" y="293.79" font-size="8.02" font-weight="normal" font-style="normal" fill="#fff" stroke="#fff" stroke-width="0.1" stroke-linejoin="round" textLength="44.89" lengthAdjust="spacingAndGlyphs">20 APR '20</text>
<text x="452.10" y="303.58" font-size="10.00" font-weight="bold" font-style="normal" fill="#fff" stroke="#fff" stroke-width="0.15" stroke-linejoin="round" textLength="19.33" lengthAdjust="spacingAndGlyphs">452</text>
<text x="544.21" y="210.87" font-size="7.06" font-weight="bold" font-style="normal" fill="#111" stroke="#111" stroke-width="0.2" stroke-linejoin="round" textLength="39.71" lengthAdjust="spacingAndGlyphs">ANTM naik</text>
<text x="544.21" y="222.47" font-size="9.96" font-weight="bold" font-style="normal" fill="#2a8a76" stroke="#2a8a76" stroke-width="0.2" stroke-linejoin="round" textLength="43.27" lengthAdjust="spacingAndGlyphs">408,4%</text>
<text x="544.05" y="231.98" font-size="7.13" font-weight="bold" font-style="normal" fill="#111" stroke="#111" stroke-width="0.12" stroke-linejoin="round" textLength="29.88" lengthAdjust="spacingAndGlyphs">dari titik</text>
<text x="544.30" y="240.98" font-size="7.13" font-weight="bold" font-style="normal" fill="#111" stroke="#111" stroke-width="0.12" stroke-linejoin="round" textLength="27.05" lengthAdjust="spacingAndGlyphs">terendah</text>
<text x="544.29" y="249.48" font-size="7.13" font-weight="bold" font-style="normal" fill="#111" stroke="#111" stroke-width="0.12" stroke-linejoin="round" textLength="31.09" lengthAdjust="spacingAndGlyphs">tahun lalu</text>
<text x="85.82" y="334.96" font-size="9.18" font-weight="bold" font-style="normal" fill="#2e2e2e" stroke="#2e2e2e" stroke-width="0.25" stroke-linejoin="round" textLength="18.97" lengthAdjust="spacingAndGlyphs">2011</text>
<text x="130.58" y="334.96" font-size="9.18" font-weight="bold" font-style="normal" fill="#2e2e2e" stroke="#2e2e2e" stroke-width="0.25" stroke-linejoin="round" textLength="21.88" lengthAdjust="spacingAndGlyphs">2012</text>
<text x="176.48" y="334.96" font-size="9.18" font-weight="bold" font-style="normal" fill="#2e2e2e" stroke="#2e2e2e" stroke-width="0.25" stroke-linejoin="round" textLength="21.83" lengthAdjust="spacingAndGlyphs">2013</text>
<text x="222.37" y="334.96" font-size="9.18" font-weight="bold" font-style="normal" fill="#2e2e2e" stroke="#2e2e2e" stroke-width="0.25" stroke-linejoin="round" textLength="22.55" lengthAdjust="spacingAndGlyphs">2014</text>
<text x="268.56" y="334.96" font-size="9.18" font-weight="bold" font-style="normal" fill="#2e2e2e" stroke="#2e2e2e" stroke-width="0.25" stroke-linejoin="round" textLength="23.07" lengthAdjust="spacingAndGlyphs">2015</text>
<text x="314.47" y="334.96" font-size="9.18" font-weight="bold" font-style="normal" fill="#2e2e2e" stroke="#2e2e2e" stroke-width="0.25" stroke-linejoin="round" textLength="22.76" lengthAdjust="spacingAndGlyphs">2016</text>
<text x="360.97" y="334.96" font-size="9.18" font-weight="bold" font-style="normal" fill="#2e2e2e" stroke="#2e2e2e" stroke-width="0.25" stroke-linejoin="round" textLength="22.30" lengthAdjust="spacingAndGlyphs">2017</text>
<text x="407.58" y="334.96" font-size="9.18" font-weight="bold" font-style="normal" fill="#2e2e2e" stroke="#2e2e2e" stroke-width="0.25" stroke-linejoin="round" textLength="22.09" lengthAdjust="spacingAndGlyphs">2018</text>
<text x="454.08" y="334.96" font-size="9.18" font-weight="bold" font-style="normal" fill="#2e2e2e" stroke="#2e2e2e" stroke-width="0.25" stroke-linejoin="round" textLength="22.14" lengthAdjust="spacingAndGlyphs">2019</text>
<text x="498.33" y="334.96" font-size="9.18" font-weight="bold" font-style="normal" fill="#2e2e2e" stroke="#2e2e2e" stroke-width="0.25" stroke-linejoin="round" textLength="25.09" lengthAdjust="spacingAndGlyphs">2020</text>
<text x="552.38" y="334.96" font-size="9.18" font-weight="bold" font-style="normal" fill="#2e2e2e" stroke="#2e2e2e" stroke-width="0.25" stroke-linejoin="round" textLength="22.04" lengthAdjust="spacingAndGlyphs">2021</text>
<text x="92.27" y="363.45" font-size="14.28" font-weight="bold" font-style="normal" fill="#111" stroke="#111" stroke-width="1.0" stroke-linejoin="round" textLength="256.67" lengthAdjust="spacingAndGlyphs">Laba per Saham ANTM, 2011-2021</text>
<rect x="73.5" y="376" width="46.1" height="129.2" fill="#d3dbd3"/>
<rect x="119.6" y="376" width="46.1" height="129.2" fill="#d3dbd3"/>
<rect x="165.7" y="376" width="46.1" height="129.2" fill="#d3dbd3"/>
<rect x="211.8" y="376" width="46.1" height="129.2" fill="#d3dbd3"/>
<rect x="257.9" y="376" width="46.1" height="129.2" fill="#d3dbd3"/>
<rect x="304.0" y="376" width="46.1" height="129.2" fill="#d0e0e0"/>
<rect x="350.1" y="376" width="46.1" height="129.2" fill="#d3dbd3"/>
<rect x="396.2" y="376" width="46.1" height="129.2" fill="#d0e0e0"/>
<rect x="442.3" y="376" width="46.1" height="129.2" fill="#d0e0e0"/>
<rect x="488.4" y="376" width="46.1" height="129.2" fill="#d0e0e0"/>
<rect x="534.5" y="376" width="60.5" height="129.2" fill="#d0e0e0"/>
<rect x="119.1" y="376" width="1" height="129.2" fill="#bcc3c0"/>
<rect x="165.2" y="376" width="1" height="129.2" fill="#bcc3c0"/>
<rect x="211.3" y="376" width="1" height="129.2" fill="#bcc3c0"/>
<rect x="257.4" y="376" width="1" height="129.2" fill="#bcc3c0"/>
<rect x="303.5" y="376" width="1" height="129.2" fill="#bcc3c0"/>
<rect x="349.6" y="376" width="1" height="129.2" fill="#bcc3c0"/>
<rect x="395.7" y="376" width="1" height="129.2" fill="#bcc3c0"/>
<rect x="441.8" y="376" width="1" height="129.2" fill="#bcc3c0"/>
<rect x="487.9" y="376" width="1" height="129.2" fill="#bcc3c0"/>
<rect x="534.0" y="376" width="1" height="129.2" fill="#bcc3c0"/>
<rect x="24" y="386" width="49.5" height="1" fill="#939c9b"/>
<rect x="24" y="406" width="49.5" height="1" fill="#939c9b"/>
<rect x="24" y="426" width="49.5" height="1" fill="#939c9b"/>
<rect x="24" y="466" width="49.5" height="1" fill="#939c9b"/>
<rect x="24" y="486" width="49.5" height="1" fill="#939c9b"/>
<text x="24.20" y="383.51" font-size="8.71" font-weight="bold" font-style="normal" fill="#1a1a1a" stroke="#1a1a1a" stroke-width="0.6" stroke-linejoin="round" textLength="14.36" lengthAdjust="spacingAndGlyphs">Rp</text>
<text x="24.17" y="397.12" font-size="9.82" font-weight="normal" font-style="normal" fill="#1e1e1e" stroke="#1e1e1e" stroke-width="0.5" stroke-linejoin="round" textLength="15.02" lengthAdjust="spacingAndGlyphs">150</text>
<text x="24.14" y="417.12" font-size="9.82" font-weight="normal" font-style="normal" fill="#1e1e1e" stroke="#1e1e1e" stroke-width="0.5" stroke-linejoin="round" textLength="15.77" lengthAdjust="spacingAndGlyphs">100</text>
<text x="24.42" y="436.82" font-size="9.82" font-weight="normal" font-style="normal" fill="#1e1e1e" stroke="#1e1e1e" stroke-width="0.5" stroke-linejoin="round" textLength="11.93" lengthAdjust="spacingAndGlyphs">50</text>
<text x="24.40" y="456.12" font-size="9.82" font-weight="normal" font-style="normal" fill="#1e1e1e" stroke="#1e1e1e" stroke-width="0.5" stroke-linejoin="round" textLength="6.26" lengthAdjust="spacingAndGlyphs">0</text>
<text x="24.37" y="475.93" font-size="9.82" font-weight="normal" font-style="normal" fill="#1e1e1e" stroke="#1e1e1e" stroke-width="0.5" stroke-linejoin="round" textLength="15.57" lengthAdjust="spacingAndGlyphs">-50</text>
<text x="24.40" y="495.93" font-size="9.82" font-weight="normal" font-style="normal" fill="#1e1e1e" stroke="#1e1e1e" stroke-width="0.5" stroke-linejoin="round" textLength="20.12" lengthAdjust="spacingAndGlyphs">-100</text>
<rect x="80" y="413.9" width="31.7" height="33.1" rx="1.5" fill="#17507f"/>
<rect x="125.8" y="396" width="32.4" height="51.0" rx="1.5" fill="#17507f"/>
<rect x="172.3" y="438.8" width="31.7" height="8.2" rx="1.5" fill="#17507f"/>
<rect x="218" y="445" width="32.5" height="14.3" rx="1.5" fill="#e23a12"/>
<rect x="264.2" y="445" width="32.0" height="25.5" rx="1.5" fill="#e23a12"/>
<rect x="310.4" y="445" width="32.3" height="2.0" rx="1.5" fill="#17507f"/>
<rect x="356.6" y="443.7" width="32.0" height="3.3" rx="1.5" fill="#17507f"/>
<rect x="403" y="431.5" width="32.2" height="15.5" rx="1.5" fill="#17507f"/>
<rect x="449.3" y="442.2" width="31.6" height="4.8" rx="1.5" fill="#17507f"/>
<rect x="495.2" y="426.7" width="32.2" height="20.3" rx="1.5" fill="#17507f"/>
<rect x="549.1" y="407.8" width="29.5" height="39" rx="1.5" fill="#7aa8dd"/>
<text x="556.97" y="421.14" font-size="10.93" font-weight="bold" font-style="normal" fill="#fff" stroke="#fff" stroke-width="0.4" stroke-linejoin="round" textLength="13.54" lengthAdjust="spacingAndGlyphs">97</text>
<rect x="24" y="445.8" width="595.2" height="1.5" fill="#111"/>
<text x="486.36" y="385.46" font-size="8.75" font-weight="normal" font-style="italic" fill="#111" stroke="#111" stroke-width="0.25" stroke-linejoin="round" textLength="52.25" lengthAdjust="spacingAndGlyphs">Forecast BRI</text>
<text x="493.14" y="395.76" font-size="8.75" font-weight="normal" font-style="italic" fill="#111" stroke="#111" stroke-width="0.25" stroke-linejoin="round" textLength="45.67" lengthAdjust="spacingAndGlyphs">Danareksa</text>
<text x="500.35" y="406.06" font-size="8.75" font-weight="normal" font-style="italic" fill="#111" stroke="#111" stroke-width="0.25" stroke-linejoin="round" textLength="38.30" lengthAdjust="spacingAndGlyphs">Sekuritas</text>
<path d="M557.2,399.5 C557,390 552,384 546,382.6" fill="none" stroke="#333" stroke-width="1"/>
<path d="M543.6,382.2 L548.5,379.6 L548,385.2 Z" fill="#333"/>
<text x="85.51" y="502.06" font-size="10.05" font-weight="bold" font-style="normal" fill="#2e2e2e" stroke="#2e2e2e" stroke-width="0.25" stroke-linejoin="round" textLength="19.28" lengthAdjust="spacingAndGlyphs">2011</text>
<text x="130.69" y="502.06" font-size="10.05" font-weight="bold" font-style="normal" fill="#2e2e2e" stroke="#2e2e2e" stroke-width="0.25" stroke-linejoin="round" textLength="21.26" lengthAdjust="spacingAndGlyphs">2012</text>
<text x="176.69" y="502.06" font-size="10.05" font-weight="bold" font-style="normal" fill="#2e2e2e" stroke="#2e2e2e" stroke-width="0.25" stroke-linejoin="round" textLength="21.52" lengthAdjust="spacingAndGlyphs">2013</text>
<text x="222.37" y="502.06" font-size="10.05" font-weight="bold" font-style="normal" fill="#2e2e2e" stroke="#2e2e2e" stroke-width="0.25" stroke-linejoin="round" textLength="22.55" lengthAdjust="spacingAndGlyphs">2014</text>
<text x="268.56" y="502.06" font-size="10.05" font-weight="bold" font-style="normal" fill="#2e2e2e" stroke="#2e2e2e" stroke-width="0.25" stroke-linejoin="round" textLength="23.07" lengthAdjust="spacingAndGlyphs">2015</text>
<text x="314.47" y="502.06" font-size="10.05" font-weight="bold" font-style="normal" fill="#2e2e2e" stroke="#2e2e2e" stroke-width="0.25" stroke-linejoin="round" textLength="22.76" lengthAdjust="spacingAndGlyphs">2016</text>
<text x="360.97" y="502.06" font-size="10.05" font-weight="bold" font-style="normal" fill="#2e2e2e" stroke="#2e2e2e" stroke-width="0.25" stroke-linejoin="round" textLength="22.30" lengthAdjust="spacingAndGlyphs">2017</text>
<text x="406.56" y="502.06" font-size="10.05" font-weight="bold" font-style="normal" fill="#2e2e2e" stroke="#2e2e2e" stroke-width="0.25" stroke-linejoin="round" textLength="23.12" lengthAdjust="spacingAndGlyphs">2018</text>
<text x="453.06" y="502.06" font-size="10.05" font-weight="bold" font-style="normal" fill="#2e2e2e" stroke="#2e2e2e" stroke-width="0.25" stroke-linejoin="round" textLength="23.18" lengthAdjust="spacingAndGlyphs">2019</text>
<text x="498.33" y="502.06" font-size="10.05" font-weight="bold" font-style="normal" fill="#2e2e2e" stroke="#2e2e2e" stroke-width="0.25" stroke-linejoin="round" textLength="24.99" lengthAdjust="spacingAndGlyphs">2020</text>
<text x="549.57" y="502.06" font-size="10.05" font-weight="bold" font-style="normal" fill="#4a86c5" stroke="#4a86c5" stroke-width="0.25" stroke-linejoin="round" textLength="28.36" lengthAdjust="spacingAndGlyphs">2021F</text>
<rect x="0" y="505.2" width="645" height="56" fill="#000"/>
<text x="236.3" y="538.9" font-size="14.6" font-weight="normal" fill="#fff" stroke="#fff" stroke-width="0.45" textLength="171" lengthAdjust="spacingAndGlyphs" style="font-family:'Liberation Mono',monospace">NEWS 2026 NURULAMIN</text>
</svg></body></html>
